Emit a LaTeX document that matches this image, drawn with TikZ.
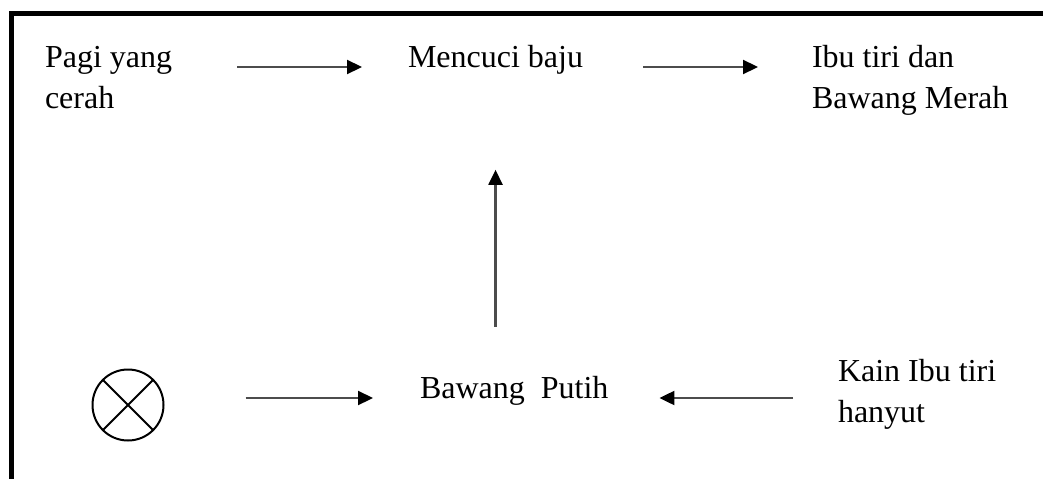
\documentclass[tikz,border=0pt]{standalone}
\usepackage{fontspec}
\setmainfont{Liberation Serif}
\usetikzlibrary{arrows.meta}

\begin{document}
\begin{tikzpicture}[x=1pt,y=-1pt,
    every node/.style={inner sep=0pt,outer sep=0pt,font=\fontsize{32}{41}\selectfont},
    teks/.style={align=left,anchor=north west},
    panah/.style={draw=black!70,line width=2.2pt,-{Triangle[length=15pt,width=14pt,color=black]}}]
                \useasboundingbox (0,0) rectangle (1043,479);
                \draw [line width=5pt] (1043,13.5) -- (11.5,13.5) -- (11.5,479);
                \node [teks] (pagi) at (45,46) {Pagi yang\\cerah};
                \node [anchor=base west] (mencuci) at (408,67) {Mencuci baju};
                \node [teks] (ibu) at (812,45) {Ibu tiri dan\\Bawang Merah};
                \node [draw,circle,minimum size=71pt,line width=2pt] (silang) at (128,405) {};
                \draw [line width=2pt] (silang.north west) -- (silang.south east)
                      (silang.north east) -- (silang.south west);
                \node [anchor=base west] (putih) at (420,398) {Bawang\ \ Putih};
                \node [teks] (kain) at (838,359) {Kain Ibu tiri\\hanyut};
                \draw [panah,shorten <=65pt,shorten >=46pt] (pagi.east |- mencuci.base) -- (mencuci.base west);
                \draw [panah,shorten <=60pt,shorten >=54pt] (mencuci.base east) -- (ibu.west |- mencuci.base);
                \draw [panah,shorten <=49pt,shorten >=96pt] (putih.north -| mencuci.south) -- (mencuci.south);
                \draw [panah,shorten <=82pt,shorten >=47pt] (silang.east |- putih.base) -- (putih.base west);
                \draw [panah,shorten <=45pt,shorten >=51pt] (kain.west |- putih.base) -- (putih.base east);
\end{tikzpicture}
\end{document}
